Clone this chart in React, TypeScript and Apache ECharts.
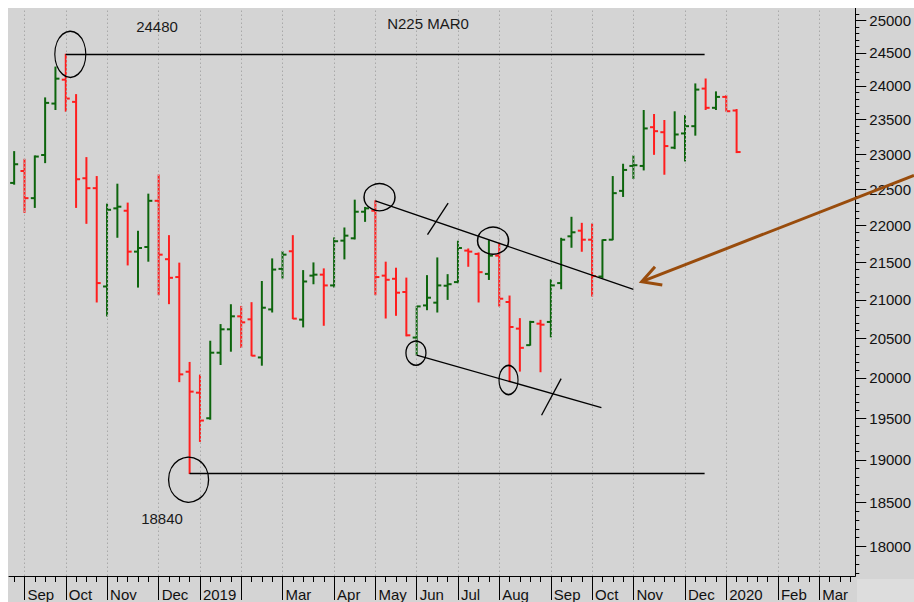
import React, { useEffect, useRef } from 'react';
import * as echarts from 'echarts';

// ---- Data (weekly OHLC, N225 futures) ----
const weekCount = 82; // category slots on the x axis (weeks), bars occupy 0..70
const monthWeeks = [1, 5, 9, 14, 18, 22, 26, 31, 35, 39, 43, 47, 52, 56, 60, 65, 69, 74, 78];
const monthLabels = ['Sep', 'Oct', 'Nov', 'Dec', '2019', '', 'Mar', 'Apr', 'May', 'Jun', 'Jul', 'Aug', 'Sep', 'Oct', 'Nov', 'Dec', '2020', 'Feb', 'Mar'];

const opens = [22590, 22759, 22376, 22987, 23738, 24095, 23763, 22656, 22516, 21175, 22234, 22201, 21641, 21704, 22339, 21539, 21300, 20077, 19816, 19502, 20317, 20616, 20784, 20745, 20257, 20874, 21409, 21646, 20741, 21319, 21332, 21189, 21790, 21822, 22187, 22201, 21319, 21277, 21102, 20510, 20926, 20962, 21185, 21233, 21655, 21610, 21342, 21587, 20971, 20625, 20413, 20689, 20711, 21220, 21849, 21926, 21803, 21307, 21803, 22478, 22831, 22831, 23390, 23317, 23093, 23299, 23405, 23961, 23675, 23837, 23635];
const highs = [23036, 22926, 22974, 23822, 24285, 24480, 23871, 22950, 22680, 22293, 22572, 22307, 21918, 22432, 22702, 21858, 21486, 20194, 20035, 20463, 20677, 20935, 20913, 20962, 21241, 21543, 21641, 21858, 21386, 21489, 21409, 21827, 21963, 22348, 22247, 22339, 21499, 21418, 21286, 20913, 21319, 21556, 21332, 21782, 21677, 21623, 21790, 21755, 21049, 20754, 20719, 20732, 21264, 21822, 22110, 22027, 22018, 21799, 22680, 22855, 22974, 23635, 23576, 23488, 23616, 23561, 24031, 24105, 23912, 23856, 23650];
const lows = [22572, 22178, 22247, 22878, 23650, 23625, 22247, 22027, 20971, 20789, 21836, 21462, 21167, 21512, 21066, 20949, 19953, 18840, 19222, 19490, 20168, 20336, 20383, 20279, 20159, 20840, 21286, 20754, 20647, 21211, 20668, 21167, 21543, 21813, 22054, 21066, 20762, 20797, 20532, 20287, 20870, 20840, 21005, 21224, 21444, 20971, 21268, 20918, 19953, 20085, 20413, 20077, 20519, 21145, 21700, 21646, 21049, 21290, 21803, 22400, 22652, 22774, 22997, 22713, 23079, 22902, 23274, 23650, 23650, 23625, 23022];
const closes = [22855, 22376, 22965, 23748, 24110, 23812, 22642, 22516, 21220, 22214, 22257, 21641, 21690, 22339, 21600, 21290, 20044, 19829, 19474, 20317, 20616, 20784, 20706, 20279, 20896, 21400, 21600, 20754, 21241, 21332, 21189, 21782, 21858, 22187, 22234, 21300, 21264, 21093, 20539, 20913, 21027, 21189, 21205, 21690, 21641, 21365, 21587, 21014, 20646, 20379, 20711, 20676, 21189, 21803, 21904, 21803, 21313, 21799, 22446, 22774, 22841, 23372, 23332, 23116, 23284, 23405, 23946, 23675, 23837, 23625, 23030];

const priceLabels = [18000, 18500, 19000, 19500, 20000, 20500, 21000, 21500, 22000, 22500, 23000, 23500, 24000, 24500, 25000];
const yMinPrice = 17672;
const yMaxPrice = 25198;
const minorStep = 100;

const highLevel = 24480;
const lowLevel = 18840;

// ---- derived ----
const ln = Math.log;
const weekIdx: number[] = [];
for (let i = 0; i < weekCount; i++) weekIdx.push(i);
const minorTickPrices: number[] = [];
for (let p = 17700; p <= 25100; p += minorStep) minorTickPrices.push(p);

const ohlcRows = opens.map((o, i) => [i, ln(o), ln(highs[i]), ln(lows[i]), ln(closes[i])]);

const GREEN = '#0d650d';
const RED = '#ff1e1e';
const FONT = '"Liberation Sans", Arial, sans-serif';

function monthLabelFor(v: number): string {
  const k = monthWeeks.indexOf(Math.round(v));
  return k >= 0 ? monthLabels[k] : '';
}

const lineStyleBlack = { color: '#000', width: 1.3, type: 'solid' as const };

const option: any = {
  animation: false,
  backgroundColor: 'transparent',
  grid: { left: 1, right: 57, top: 0, bottom: 23, containLabel: false },
  xAxis: [
    {
      type: 'value', min: -0.5, max: weekCount - 0.5, position: 'bottom',
      axisLine: { show: true, onZero: false, lineStyle: { color: '#000', width: 1 } },
      axisTick: { show: true, length: 6, customValues: weekIdx, lineStyle: { color: '#000', width: 1 } },
      axisLabel: {
        show: true, customValues: monthWeeks, formatter: (v: number) => monthLabelFor(v),
        align: 'left', padding: [0, 0, 0, 3], margin: 11, fontSize: 15, fontFamily: FONT, color: '#111',
        showMinLabel: true, showMaxLabel: true,
      },
      splitLine: { show: false },
    },
    {
      type: 'value', min: -0.5, max: weekCount - 0.5, position: 'bottom',
      axisLine: { show: false, onZero: false },
      axisTick: { show: true, length: 24, customValues: monthWeeks, lineStyle: { color: '#000', width: 1 } },
      axisLabel: { show: false },
      splitLine: { show: false },
    },
  ],
  yAxis: [
    {
      type: 'value', min: ln(yMinPrice), max: ln(yMaxPrice), position: 'right',
      axisLine: { show: true, onZero: false, lineStyle: { color: '#000', width: 1 } },
      axisTick: { show: true, length: 4, customValues: minorTickPrices.map(ln), lineStyle: { color: '#000', width: 1 } },
      axisLabel: {
        show: true, customValues: priceLabels.map(ln), formatter: (v: number) => String(Math.round(Math.exp(v))),
        margin: 14, fontSize: 15, fontFamily: FONT, color: '#111',
      },
      splitLine: { show: false },
    },
    {
      type: 'value', min: ln(yMinPrice), max: ln(yMaxPrice), position: 'right',
      axisLine: { show: false, onZero: false },
      axisTick: { show: true, length: 11, customValues: priceLabels.map(ln), lineStyle: { color: '#000', width: 1 } },
      axisLabel: { show: false },
      splitLine: { show: false },
    },
  ],
  series: [
    {
      // month gridlines
      type: 'line', data: [], xAxisIndex: 0, yAxisIndex: 0, z: 1, silent: true,
      markLine: {
        silent: true, symbol: ['none', 'none'], label: { show: false },
        lineStyle: { type: [1.5, 2.5], color: '#a9a9a9', width: 1 },
        data: monthWeeks.map((w) => ({ xAxis: w })),
      },
    },
    {
      type: 'custom', xAxisIndex: 0, yAxisIndex: 0, z: 3,
      data: ohlcRows,
      encode: { x: 0, y: [1, 2, 3, 4] },
      renderItem: (params: any, api: any) => {
        const i = api.value(0);
        const o = api.value(1), h = api.value(2), l = api.value(3), c = api.value(4);
        const pH = api.coord([i, h]);
        const pL = api.coord([i, l]);
        const pO = api.coord([i, o]);
        const pC = api.coord([i, c]);
        const color = c >= o ? GREEN : RED;
        const st = { stroke: color, lineWidth: 2 };
        return {
          type: 'group',
          children: [
            { type: 'line', shape: { x1: pH[0], y1: pH[1] - 0.5, x2: pL[0], y2: pL[1] + 0.5 }, style: st },
            { type: 'line', shape: { x1: pO[0] - 4, y1: pO[1], x2: pO[0], y2: pO[1] }, style: st },
            { type: 'line', shape: { x1: pC[0], y1: pC[1], x2: pC[0] + 4, y2: pC[1] }, style: st },
          ],
        };
      },
    },
    {
      // annotations
      type: 'line', data: [], xAxisIndex: 0, yAxisIndex: 0, z: 5, silent: true,
      markLine: {
        silent: true, symbol: ['none', 'none'], label: { show: false },
        lineStyle: lineStyleBlack,
        data: [
          [{ coord: [5, ln(highLevel)] }, { coord: [66.9, ln(highLevel)] }],
          [{ coord: [17, ln(lowLevel)] }, { coord: [66.9, ln(lowLevel)] }],
          [{ coord: [35, ln(22339)] }, { coord: [60, ln(21136)] }],
          [{ coord: [39, ln(20287)] }, { coord: [56.9, ln(19633)] }],
          [{ coord: [40.05, ln(21871)] }, { coord: [42.05, ln(22307)] }],
          [{ coord: [51.1, ln(19539)] }, { coord: [53.0, ln(19990)] }],
        ],
      },
      markPoint: {
        silent: true, symbol: 'circle', label: { show: false },
        itemStyle: { color: 'rgba(0,0,0,0)', borderColor: '#000', borderWidth: 1.4 },
        data: [
          { coord: [5.44, ln(24480)], symbolSize: [31, 46] },
          { coord: [16.9, ln(18768)], symbolSize: [40, 45] },
          { coord: [35.4, ln(22390)], symbolSize: [31, 27] },
          { coord: [46.4, ln(21790)], symbolSize: [31, 27] },
          { coord: [38.93, ln(20312)], symbolSize: [20, 24] },
          { coord: [47.9, ln(19973)], symbolSize: [19, 29] },
        ],
      },
    },
  ],
  graphic: [
    { type: 'rect', z: -10, shape: { x: 849, y: 571, width: 57, height: 23 }, style: { fill: '#dddddd' } },
    { type: 'text', x: 149, y: 18, z: 10, style: { text: '24480', fontSize: 15, fontFamily: FONT, fill: '#1a1a1a', align: 'center', verticalAlign: 'middle' } },
    { type: 'text', x: 420, y: 15, z: 10, style: { text: 'N225 MAR0', fontSize: 15, fontFamily: FONT, fill: '#1a1a1a', align: 'center', verticalAlign: 'middle' } },
    { type: 'text', x: 154, y: 510, z: 10, style: { text: '18840', fontSize: 15, fontFamily: FONT, fill: '#1a1a1a', align: 'center', verticalAlign: 'middle' } },
    { type: 'line', z: 10, shape: { x1: 906, y1: 167.4, x2: 633.7, y2: 273.7 }, style: { stroke: '#994c0c', lineWidth: 3 } },
    { type: 'polyline', z: 10, shape: { points: [[647, 258.7], [633.7, 273.7], [654.3, 277]] }, style: { stroke: '#994c0c', lineWidth: 3, fill: null } },
  ],
};

export default function App() {
  const ref = useRef<HTMLDivElement>(null);
  useEffect(() => {
    if (!ref.current) return;
    const chart = echarts.init(ref.current, null, { renderer: 'svg' });
    chart.setOption(option);
    return () => chart.dispose();
  }, []);
  return (
    <div style={{ position: 'fixed', left: 0, top: 0, width: 914, height: 602, background: '#ffffff', overflow: 'hidden' }}>
      <div ref={ref} style={{ position: 'absolute', left: 8, top: 8, width: 906, height: 594, background: '#d4d4d4' }} />
    </div>
  );
}
